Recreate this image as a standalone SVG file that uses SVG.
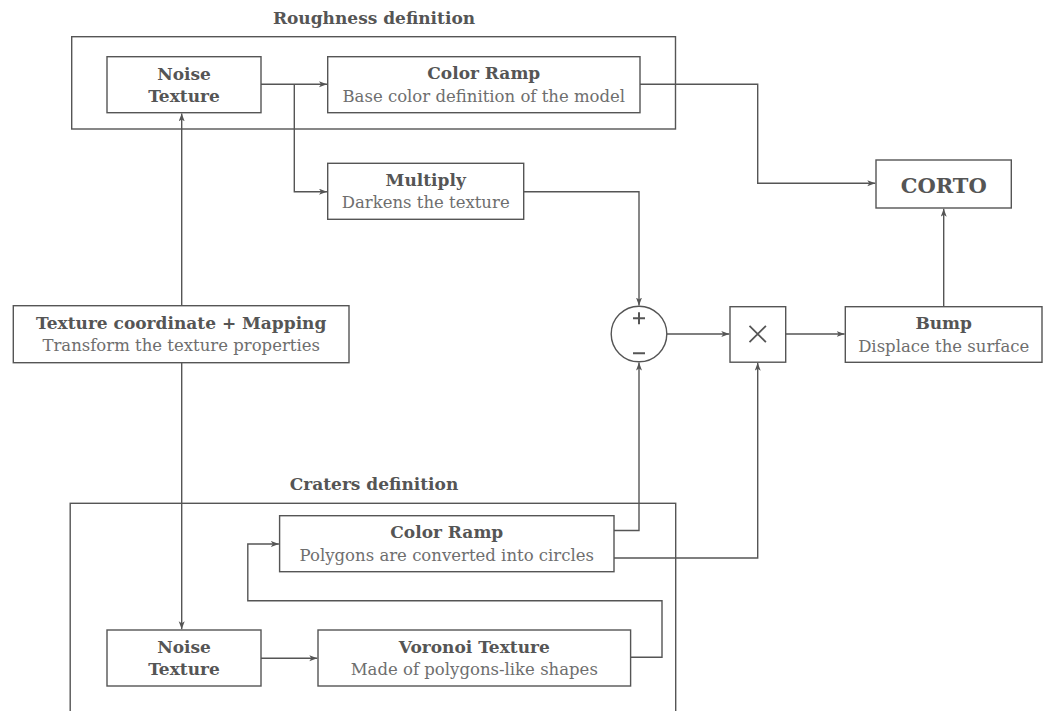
<svg xmlns="http://www.w3.org/2000/svg" width="1053" height="711" viewBox="0 0 1053 711">
<style>
.box{fill:#fff;stroke:#555;stroke-width:1.4}
.grp{fill:none;stroke:#555;stroke-width:1.4}
.ln{fill:none;stroke:#555;stroke-width:1.4}
.b{font-family:"DejaVu Serif","Liberation Serif",serif;font-weight:bold;font-size:17px;fill:#555;text-anchor:middle}
.t{font-family:"DejaVu Serif","Liberation Serif",serif;font-size:16.5px;fill:#6e6e6e;text-anchor:middle}
.sym{fill:none;stroke:#555;stroke-width:2}
</style>
<defs>
<marker id="arr" markerUnits="userSpaceOnUse" markerWidth="10" markerHeight="8" refX="8" refY="3" orient="auto">
<path d="M0,0 L8,3 L0,6 L2,3 z" fill="#555"/>
</marker>
</defs>
<rect width="1053" height="711" fill="#fff"/>
<g id="roughness-group">
<rect class="grp" x="71.7" y="36.7" width="603.8" height="92.3"/>
<text class="b" x="374" y="24">Roughness definition</text>
</g>
<g id="craters-group">
<rect class="grp" x="70.2" y="503.3" width="605.5" height="230"/>
<text class="b" x="374" y="490">Craters definition</text>
</g>
<g id="connectors">
<path class="ln" d="M261,84.3 H327" marker-end="url(#arr)"/>
<path class="ln" d="M294.3,84.3 V191.7 H327" marker-end="url(#arr)"/>
<path class="ln" d="M640,84.3 H757.7 V183.3 H875.3" marker-end="url(#arr)"/>
<path class="ln" d="M523.7,191.7 H639 V305.5" marker-end="url(#arr)"/>
<path class="ln" d="M666.8,334 H729.3" marker-end="url(#arr)"/>
<path class="ln" d="M785.7,334 H844.6" marker-end="url(#arr)"/>
<path class="ln" d="M943.7,306.7 V208.7" marker-end="url(#arr)"/>
<path class="ln" d="M181.7,305.7 V113.4" marker-end="url(#arr)"/>
<path class="ln" d="M181.7,362.7 V629.3" marker-end="url(#arr)"/>
<path class="ln" d="M261,658.3 H317.3" marker-end="url(#arr)"/>
<path class="ln" d="M630.6,657.3 H662 V600.7 H247.8 V544 H278.9" marker-end="url(#arr)"/>
<path class="ln" d="M614,530.5 H639 V362.5" marker-end="url(#arr)"/>
<path class="ln" d="M614,558 H757.7 V362.7" marker-end="url(#arr)"/>
</g>
<g id="noise-top">
<rect class="box" x="107" y="56.7" width="154" height="56"/>
<text class="b" x="184" y="79.5">Noise</text>
<text class="b" x="184" y="101.8">Texture</text>
</g>
<g id="colorramp-top">
<rect class="box" x="327.7" y="56.7" width="312.3" height="56"/>
<text class="b" x="483.8" y="79.3">Color Ramp</text>
<text class="t" x="483.8" y="101.8">Base color definition of the model</text>
</g>
<g id="multiply">
<rect class="box" x="327.7" y="163.3" width="196" height="56"/>
<text class="b" x="425.7" y="185.8">Multiply</text>
<text class="t" x="425.7" y="208.3">Darkens the texture</text>
</g>
<g id="corto">
<rect class="box" x="876" y="160" width="135.3" height="48"/>
<text class="b" x="943.7" y="193.3" style="font-size:21px">CORTO</text>
</g>
<g id="texcoord">
<rect class="box" x="13.3" y="305.7" width="335.7" height="57"/>
<text class="b" x="181.2" y="328.5">Texture coordinate + Mapping</text>
<text class="t" x="181.2" y="351">Transform the texture properties</text>
</g>
<g id="sum">
<circle class="box" cx="639" cy="334" r="27.8"/>
<path class="sym" d="M633,318.3 H645 M639,312.3 V324.3 M633,353.3 H645"/>
</g>
<g id="product">
<rect class="box" x="730" y="306.7" width="55.7" height="55.5"/>
<path class="sym" style="stroke-width:1.8" d="M749.5,325.8 L765.9,342.2 M765.9,325.8 L749.5,342.2"/>
</g>
<g id="bump">
<rect class="box" x="845.3" y="306.7" width="196.7" height="55.6"/>
<text class="b" x="943.7" y="329">Bump</text>
<text class="t" x="943.7" y="351.5">Displace the surface</text>
</g>
<g id="colorramp-craters">
<rect class="box" x="279.6" y="515.7" width="334.4" height="56"/>
<text class="b" x="446.8" y="538.3">Color Ramp</text>
<text class="t" x="446.8" y="560.8">Polygons are converted into circles</text>
</g>
<g id="noise-bottom">
<rect class="box" x="107" y="630" width="154" height="56"/>
<text class="b" x="184" y="652.8">Noise</text>
<text class="b" x="184" y="675.1">Texture</text>
</g>
<g id="voronoi">
<rect class="box" x="318" y="630" width="312.6" height="56"/>
<text class="b" x="474.3" y="652.6">Voronoi Texture</text>
<text class="t" x="474.3" y="675.1">Made of polygons-like shapes</text>
</g>
</svg>
